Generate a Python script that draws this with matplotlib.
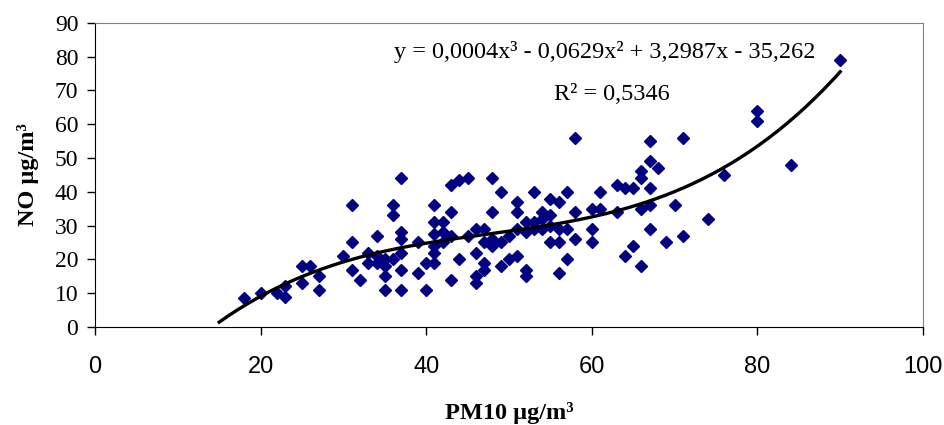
import numpy as np
import matplotlib
matplotlib.use("Agg")
import matplotlib.pyplot as plt

pm10 = [18, 20, 22, 23, 23, 25, 25, 26, 27, 27, 30, 31, 31, 31, 32, 33, 33, 34, 34, 34,
        35, 35, 35, 35, 36, 36, 36, 37, 37, 37, 37, 37, 37, 39, 39, 40, 40, 41, 41, 41,
        41, 41, 41, 42, 42, 42, 43, 43, 43, 43, 44, 44, 45, 45, 46, 46, 46, 46, 47, 47,
        47, 47, 48, 48, 48, 48, 49, 49, 49, 50, 50, 51, 51, 51, 51, 52, 52, 52, 52, 53,
        53, 53, 54, 54, 54, 55, 55, 55, 55, 56, 56, 56, 56, 57, 57, 57, 58, 58, 58, 60,
        60, 60, 61, 61, 63, 63, 64, 64, 65, 65, 66, 66, 66, 66, 67, 67, 67, 67, 67, 68,
        69, 70, 71, 71, 74, 76, 80, 80, 84, 90]
no = [8.7, 10, 10, 12, 9, 18, 13, 18, 15, 11, 21, 36, 25, 17, 14, 22, 19, 27, 19, 21,
      18, 15, 11, 20, 36, 33, 20, 44, 28, 26, 22, 17, 11, 25, 16, 19, 11, 36, 31, 27.5,
      24, 22, 19, 31, 28, 25, 42, 34, 27, 14, 43.5, 20, 44, 27, 29, 22, 15, 13, 29, 19,
      17, 25, 44, 34, 24, 26, 40, 18, 25, 20, 27, 37, 34, 21, 29, 31, 17, 15, 28, 40,
      31, 29, 34, 29, 32, 38, 33, 25, 30, 37, 25, 16, 29, 40, 29, 20, 56, 34, 26, 35,
      29, 25, 40, 35, 42, 34, 41, 21, 41, 24, 46, 44, 35, 18, 55, 49, 41, 36, 29, 47,
      25, 36, 56, 27, 32, 45, 64, 61, 48, 79]

trend_x_range = (15, 90)
equation = "y = 0,0004x³ - 0,0629x² + 3,2987x - 35,262"
r2_text = "R² = 0,5346"

fig = plt.figure(figsize=(9.44, 4.25), dpi=100)
ax = fig.add_axes([95/944, 1-327/425, (923-95)/944, (327-22.7)/425])

ax.plot(pm10, no, linestyle='none', marker='D', ms=6.2, color='#000080',
        markeredgecolor='#000080', zorder=3)

coef = np.polyfit(pm10, no, 3)
xs = np.linspace(trend_x_range[0], trend_x_range[1], 200)
ax.plot(xs, np.polyval(coef, xs), color='black', lw=2.4, zorder=4)

ax.set_xlim(0, 100)
ax.set_ylim(0, 90)
ax.set_xticks(np.arange(0, 101, 20))
ax.set_yticks(np.arange(0, 91, 10))
ax.tick_params(direction='out', length=6, width=1)
ax.tick_params(axis='x', pad=15, labelsize=17)
ax.tick_params(axis='y', pad=6, labelsize=17)
for lab in ax.get_xticklabels():
    lab.set_fontfamily('Liberation Sans')
for lab in ax.get_yticklabels():
    lab.set_fontfamily('Liberation Serif')

for s in ['top', 'right']:
    ax.spines[s].set_color('#808080')
for s in ['left', 'bottom']:
    ax.spines[s].set_color('black')

ax.set_xlabel('PM10 µg/m³', fontfamily='Liberation Serif', fontweight='bold',
              fontsize=17.5, labelpad=17)
ax.set_ylabel('NO µg/m³', fontfamily='Liberation Serif', fontweight='bold',
              fontsize=17.5, labelpad=11)

ax.text(605/944, 1-52/425, equation, transform=fig.transFigure, ha='center', va='center',
        fontfamily='Liberation Serif', fontsize=17.5)
ax.text(612/944, 1-94/425, r2_text, transform=fig.transFigure, ha='center', va='center',
        fontfamily='Liberation Serif', fontsize=17.5)

fig.savefig('out.png', dpi=100)
